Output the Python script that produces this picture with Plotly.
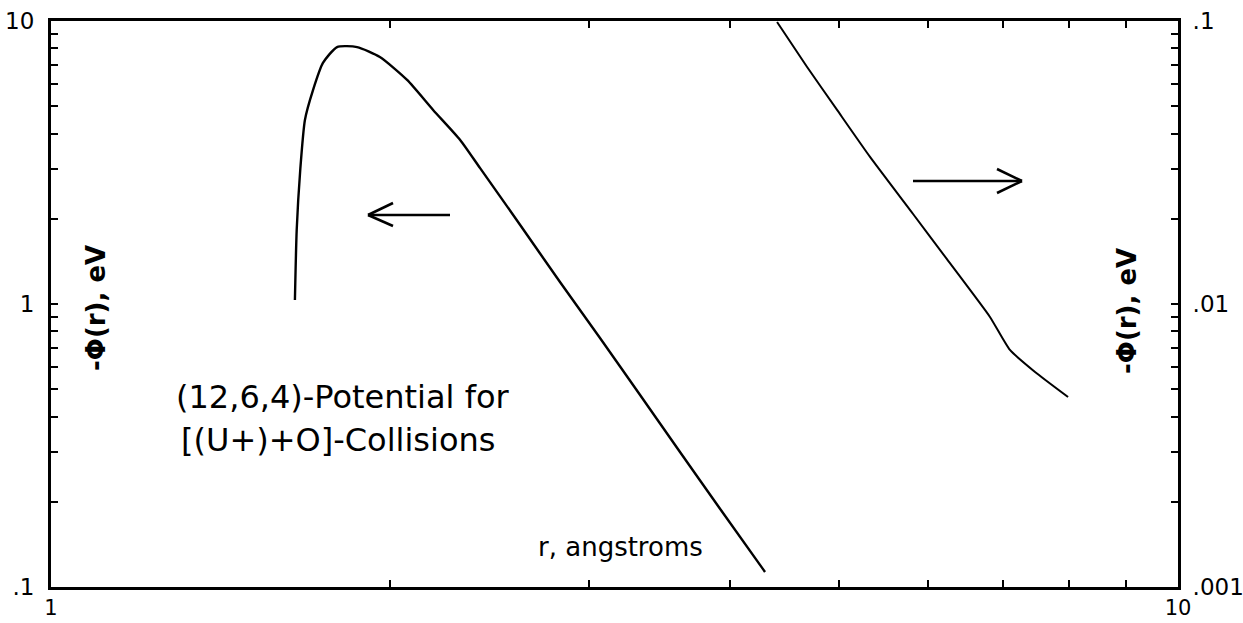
import plotly.graph_objects as go

# (12,6,4) potential, -phi(r) in eV versus separation r in angstroms
# inner branch, read against the left axis (0.1 .. 10 eV)
r_inner = [1.646, 1.652, 1.664, 1.680, 1.708, 1.743, 1.794, 1.869, 1.958, 2.070,
           2.183, 2.307, 2.403, 2.608, 2.829, 3.070, 3.332, 3.615, 3.923, 4.301]
phi_inner = [1.033, 1.826, 2.975, 4.47, 5.70, 7.11, 8.09, 8.09, 7.46, 6.19,
             4.85, 3.80, 3.02, 1.902, 1.196, 0.758, 0.477, 0.300, 0.189, 0.113]

# outer branch, read against the right axis (0.001 .. 0.1 eV)
r_outer = [4.408, 4.687, 4.983, 5.330, 5.820, 6.237, 6.810, 7.094, 7.467, 7.988]
phi_outer = [0.0992, 0.0688, 0.0485, 0.0331, 0.0208, 0.0144, 0.00900, 0.00688,
             0.00575, 0.00469]

x_ticks = [1, 2, 3, 4, 5, 6, 7, 8, 9, 10]
x_ticktext = ["1", "", "", "", "", "", "", "", "", "10"]
yl_ticks = [0.1, 0.2, 0.3, 0.4, 0.5, 0.6, 0.7, 0.8, 0.9,
            1, 2, 3, 4, 5, 6, 7, 8, 9, 10]
yl_ticktext = [".1"] + [""] * 8 + ["1"] + [""] * 8 + ["10"]
yr_ticks = [v / 100 for v in yl_ticks]
yr_ticktext = [".001"] + [""] * 8 + [".01"] + [""] * 8 + [".1"]

FONT = "DejaVu Sans"
W, H = 1243, 623
L, R, T, B = 51, 1178, 21, 587


def px(x):
    return (x - L) / (R - L)


def py(y):
    return (B - y) / (B - T)


fig = go.Figure()
fig.add_trace(go.Scatter(x=r_inner, y=phi_inner, mode="lines",
                         line=dict(color="black", width=2.4, shape="spline",
                                   smoothing=0.6),
                         showlegend=False, hoverinfo="skip"))
fig.add_trace(go.Scatter(x=r_outer, y=phi_outer, mode="lines", yaxis="y2",
                         line=dict(color="black", width=2, shape="spline",
                                   smoothing=0.5),
                         showlegend=False, hoverinfo="skip"))

axis_common = dict(
    type="log", showgrid=False, zeroline=False, showline=True,
    linecolor="black", linewidth=3, ticks="inside", ticklen=7,
    tickwidth=2, tickcolor="black", automargin=False,
    tickfont=dict(family=FONT, size=23, color="black"),
)

fig.update_layout(
    width=W, height=H,
    margin=dict(l=L, r=W - R, t=T, b=H - B),
    paper_bgcolor="white", plot_bgcolor="white",
    xaxis=dict(axis_common, range=[0, 1], tickvals=x_ticks,
               ticktext=x_ticktext, mirror="ticks", ticklabelstandoff=0,
               tickfont=dict(family=FONT, size=21, color="black")),
    yaxis=dict(axis_common, range=[-1, 1], tickvals=yl_ticks,
               ticktext=yl_ticktext, mirror=True, ticklabelstandoff=9),
    yaxis2=dict(axis_common, range=[-3, -1], tickvals=yr_ticks,
                ticktext=yr_ticktext, overlaying="y", side="right",
                ticklabelstandoff=7),
)

title_font = dict(family=FONT, size=26, color="black", weight="bold")
annotations = [
    dict(x=px(96), y=py(308), text="-Φ(r), eV", textangle=-90,
         font=title_font),
    dict(x=px(1127), y=py(311), text="-Φ(r), eV", textangle=-90,
         font=title_font),
    dict(x=px(343), y=py(397), text="(12,6,4)-Potential for",
         font=dict(family=FONT, size=32, color="black")),
    dict(x=px(338), y=py(440), text="[(U+)+O]-Collisions",
         font=dict(family=FONT, size=32, color="black")),
    dict(x=px(620), y=py(547), text="r, angstroms",
         font=dict(family=FONT, size=26, color="black")),
]
for a in annotations:
    a.update(xref="paper", yref="paper", showarrow=False,
             xanchor="center", yanchor="middle")
fig.update_layout(annotations=annotations)

# direction arrows: which axis each branch belongs to
arrow_segments = [
    ((450, 215), (368, 215)), ((368, 215), (393, 203)), ((368, 215), (393, 226)),
    ((913, 181), (1022, 181)), ((1022, 181), (997, 169)), ((1022, 181), (997, 193)),
]
fig.update_layout(shapes=[
    dict(type="line", xref="paper", yref="paper",
         x0=px(a[0]), y0=py(a[1]), x1=px(b[0]), y1=py(b[1]),
         line=dict(color="black", width=2.5))
    for a, b in arrow_segments
])

fig.write_html("out.html")
